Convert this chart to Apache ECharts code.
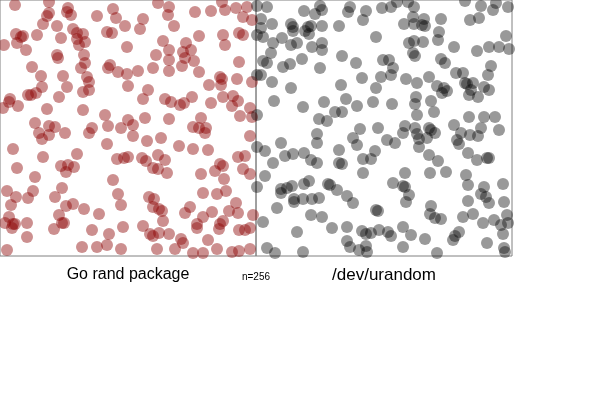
<!DOCTYPE html>
<html>
<head>
<meta charset="utf-8">
<script src="https://cdn.jsdelivr.net/npm/echarts@6/dist/echarts.min.js"></script>
<style>html,body{margin:0;padding:0;background:#fff}#c{width:600px;height:400px}</style>
</head>
<body>
<div id="c"></div>
<script>
// Panel titles
var panelTitles = ['Go rand package', '/dev/urandom'];
var sampleLabel = 'n=256';

// Go rand package: [x, y] pairs (0..256, y measured from top)
var goRand = [
[15,5],[49,2],[49,13],[47,16],[68,8],[67,12],[71,15],[97,16],[113,9],[116,18],[43,24],[57,26],[73,29],[77,33],[83,34],[77,39],[85,42],[79,45],[107,32],[112,33],[125,26],[16,34],[23,36],[21,37],[37,35],[61,38],[4,45],[17,43],[26,50],[127,47],[57,55],[58,58],[84,55],[85,63],[81,68],[32,67],[41,76],[63,76],[87,77],[89,82],[110,65],[108,68],[118,72],[127,74],[42,87],[67,87],[83,92],[89,90],[128,86],[28,95],[31,95],[36,93],[59,97],[10,99],[9,102],[18,106],[3,108],[47,109],[83,110],[105,115],[35,123],[49,126],[55,127],[92,128],[108,126],[121,128],[128,120],
[158,3],[169,7],[168,15],[143,19],[140,29],[174,26],[195,12],[211,11],[222,2],[225,10],[236,8],[247,7],[243,17],[252,20],[199,36],[223,35],[225,45],[239,33],[243,35],[163,41],[186,43],[169,50],[156,55],[183,52],[191,50],[185,58],[169,60],[194,61],[182,66],[153,68],[169,71],[138,71],[199,72],[239,62],[220,77],[222,79],[209,85],[221,85],[237,79],[252,82],[148,90],[143,99],[165,99],[171,102],[180,105],[184,103],[192,97],[211,103],[223,97],[233,96],[238,101],[232,106],[250,108],[252,117],[240,116],[133,125],[145,118],[169,119],[201,118],[193,127],[199,128],[206,128],
[39,133],[42,139],[49,135],[65,133],[89,133],[13,149],[43,157],[77,154],[107,144],[117,159],[124,158],[128,157],[17,168],[61,166],[68,165],[74,167],[66,172],[35,177],[113,180],[7,191],[33,191],[62,188],[16,197],[28,198],[55,197],[118,194],[11,205],[66,206],[73,204],[84,209],[121,205],[99,214],[9,217],[5,223],[13,224],[15,224],[12,228],[27,223],[59,215],[62,223],[64,223],[54,229],[92,230],[123,227],[27,237],[109,234],[7,250],[82,247],[97,247],[107,245],[121,249],
[133,136],[147,141],[161,138],[205,133],[250,136],[179,146],[193,149],[208,150],[142,158],[146,161],[158,155],[165,160],[153,168],[158,169],[167,173],[220,164],[223,166],[215,171],[201,174],[238,157],[245,156],[243,169],[250,174],[224,179],[226,191],[217,194],[203,193],[149,197],[154,199],[153,207],[159,209],[162,211],[163,221],[190,207],[185,213],[203,217],[212,212],[229,211],[236,203],[238,213],[253,215],[223,221],[220,224],[219,229],[197,224],[197,228],[143,226],[150,234],[153,236],[159,233],[169,234],[181,239],[183,243],[175,249],[157,249],[208,240],[239,230],[245,230],[250,228],[217,249],[193,253],[203,253],[232,252],[239,251],[250,249]
];

// /dev/urandom: [x, y] pairs (0..256, y measured from top)
var urandom = [
[1,6],[11,7],[5,19],[5,28],[1,35],[7,37],[16,24],[17,43],[26,38],[35,24],[37,27],[37,31],[35,45],[41,43],[48,11],[59,14],[64,6],[66,10],[49,31],[52,27],[55,26],[53,34],[66,26],[56,47],[66,43],[66,50],[83,26],[94,7],[92,12],[110,11],[107,20],[126,8],[120,37],[15,53],[7,61],[11,63],[27,67],[34,64],[46,59],[64,68],[86,56],[100,63],[127,60],[1,75],[5,75],[16,82],[35,88],[85,85],[106,78],[120,88],[125,77],[18,101],[47,107],[68,102],[90,99],[101,106],[117,102],[79,112],[86,112],[1,115],[63,119],[71,121],[104,129],[122,128],
[141,2],[152,2],[158,7],[135,7],[157,17],[168,19],[169,26],[166,25],[158,24],[148,24],[185,19],[183,32],[182,40],[158,41],[153,43],[167,42],[209,1],[225,6],[240,3],[237,10],[252,7],[214,20],[223,18],[250,36],[198,47],[221,51],[233,47],[243,47],[253,49],[157,53],[159,56],[133,60],[137,68],[135,75],[185,59],[189,63],[235,66],[232,75],[200,73],[207,73],[150,79],[161,83],[173,77],[181,86],[188,88],[191,91],[186,93],[209,83],[211,84],[217,83],[215,90],[213,95],[222,97],[228,87],[233,90],[160,97],[159,104],[175,101],[136,104],[178,112],[161,115],[213,117],[228,117],[239,117],[149,126],[159,128],[173,128],[175,130],[198,125],[225,128],[243,130],
[1,147],[9,151],[25,143],[29,156],[37,154],[48,153],[17,163],[55,160],[61,163],[61,134],[61,143],[97,138],[101,145],[83,150],[83,163],[86,164],[107,159],[115,159],[119,151],[107,173],[9,176],[1,187],[25,189],[25,193],[31,188],[36,186],[48,184],[53,181],[72,184],[74,185],[81,190],[38,199],[38,202],[47,199],[56,199],[63,198],[91,196],[97,203],[21,208],[120,210],[122,211],[55,215],[66,217],[7,222],[76,228],[91,227],[41,232],[106,231],[110,234],[115,233],[123,230],[91,241],[94,247],[103,250],[110,246],[111,252],[11,248],[19,253],[47,252],
[179,133],[161,134],[163,139],[171,138],[147,133],[131,140],[139,143],[163,147],[205,133],[214,135],[222,136],[201,140],[203,144],[173,155],[182,161],[212,153],[221,160],[231,158],[233,158],[149,173],[137,183],[147,186],[149,187],[174,173],[190,172],[210,175],[212,185],[228,187],[225,194],[230,197],[233,203],[247,184],[248,202],[153,195],[150,202],[212,201],[175,206],[174,214],[179,218],[185,219],[207,217],[217,214],[227,223],[238,220],[251,215],[245,225],[252,223],[147,227],[132,232],[135,236],[155,235],[169,239],[203,232],[199,236],[197,240],[247,234],[147,247],[231,243],[248,248],[249,252],[181,253]
];

var chart = echarts.init(document.getElementById('c'), null, {renderer: 'canvas'});
var hidden = {show: false};
function xAx(i) {
  return {type: 'value', gridIndex: i, min: 0, max: 256, axisLine: hidden, axisTick: hidden, axisLabel: hidden, splitLine: hidden};
}
function yAx(i) {
  return {type: 'value', gridIndex: i, min: 0, max: 256, inverse: true, axisLine: hidden, axisTick: hidden, axisLabel: hidden, splitLine: hidden};
}
var gridStyle = {show: true, borderColor: '#808080', borderWidth: 1, backgroundColor: 'transparent'};
chart.setOption({
  animation: false,
  grid: [
    Object.assign({left: 0, top: 0, width: 256, height: 256}, gridStyle),
    Object.assign({left: 256, top: 0, width: 256, height: 256}, gridStyle)
  ],
  xAxis: [xAx(0), xAx(1)],
  yAxis: [yAx(0), yAx(1)],
  series: [
    {type: 'scatter', xAxisIndex: 0, yAxisIndex: 0, data: goRand, symbolSize: 12, clip: false,
     itemStyle: {color: 'rgba(139,0,0,0.55)'}, emphasis: {disabled: true}},
    {type: 'scatter', xAxisIndex: 1, yAxisIndex: 1, data: urandom, symbolSize: 12, clip: false,
     itemStyle: {color: 'rgba(0,0,0,0.5)'}, emphasis: {disabled: true}}
  ],
  graphic: [
    {type: 'text', x: 128, y: 275, style: {text: panelTitles[0], font: '16px "Liberation Sans", Arial, sans-serif', fill: '#000', textAlign: 'center', textVerticalAlign: 'middle'}},
    {type: 'text', x: 256, y: 277, style: {text: sampleLabel, font: '10px "Liberation Sans", Arial, sans-serif', fill: '#000', textAlign: 'center', textVerticalAlign: 'middle'}},
    {type: 'text', x: 384, y: 275, style: {text: panelTitles[1], font: '17px "Liberation Sans", Arial, sans-serif', fill: '#000', textAlign: 'center', textVerticalAlign: 'middle'}}
  ]
});
</script>
</body>
</html>
